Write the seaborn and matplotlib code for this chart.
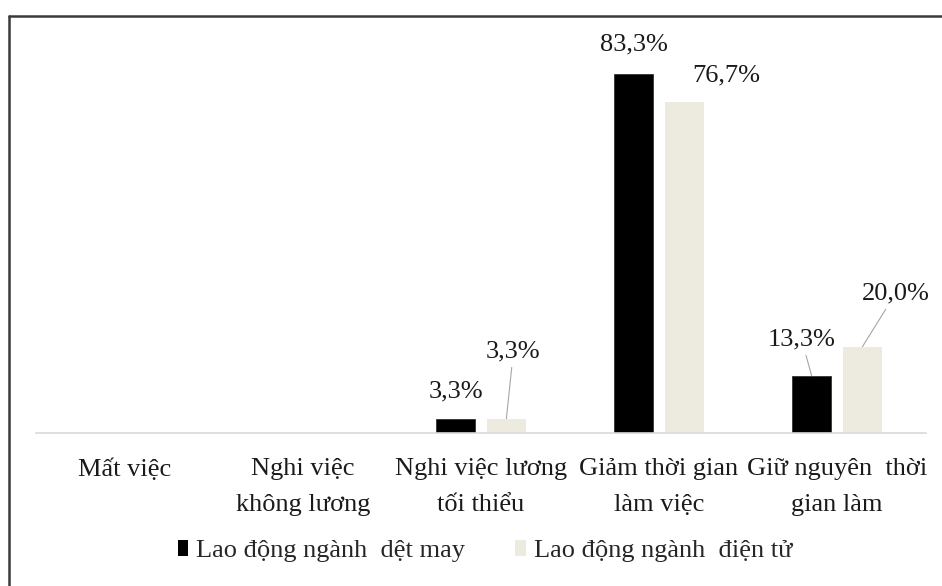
import matplotlib
matplotlib.use("Agg")
import matplotlib.pyplot as plt
from matplotlib.lines import Line2D
from matplotlib.patches import Patch
import seaborn as sns
import pandas as pd

categories = ["Mất việc", "Nghi việc\nkhông lương", "Nghi việc lương\ntối thiểu",
              "Giảm thời gian\nlàm việc", "Giữ nguyên  thời\ngian làm"]
series = ["Lao động ngành  dệt may", "Lao động ngành  điện tử"]
det_may = [0, 0, 3.3, 83.3, 13.3]
dien_tu = [0, 0, 3.3, 76.7, 20.0]
labels_det_may = ["", "", "3,3%", "83,3%", "13,3%"]
labels_dien_tu = ["", "", "3,3%", "76,7%", "20,0%"]
colors = ["#000000", "#EDEBE0"]

df = pd.DataFrame({
    "cat": categories * 2,
    "val": det_may + dien_tu,
    "series": [series[0]] * len(categories) + [series[1]] * len(categories),
})

sns.set_style("white")
plt.rcParams["font.family"] = ["Liberation Serif", "DejaVu Serif"]
FS = 19

fig = plt.figure(figsize=(9.42, 5.86), dpi=100)
ax = fig.add_axes([36 / 942, (586 - 433) / 586, 890 / 942, (433 - 45) / 586])

sns.barplot(data=df, x="cat", y="val", hue="series", palette=colors,
            width=0.57, saturation=1, ax=ax, edgecolor="none")
ax.get_legend().remove()

# label offsets in pixels from the top centre of each bar: (dx, dy, leader line)
offsets = {
    (0, 2): (0, 27, False), (0, 3): (0, 29, False), (0, 4): (-10, 36, True),
    (1, 2): (7, 67, True), (1, 3): (42, 27, False), (1, 4): (33, 53, True),
}
all_labels = [labels_det_may, labels_dien_tu]
bar_w = 39 / 178
for si, cont in enumerate(ax.containers):
    for ci, bar in enumerate(cont):
        w = bar.get_width()
        bar.set_x(bar.get_x() + (w - bar_w) / 2)
        bar.set_width(bar_w)
        if si == 0:
            bar.set_edgecolor("#333333")
            bar.set_linewidth(0.6)
        txt = all_labels[si][ci]
        if not txt:
            continue
        dx, dy, leader = offsets.get((si, ci), (0, 27, False))
        cx = bar.get_x() + bar_w / 2
        props = None
        if leader:
            props = dict(arrowstyle="-", color="#A6A6A6", lw=0.8, shrinkA=1, shrinkB=0)
        ax.annotate(txt, xy=(cx, bar.get_height()), xytext=(dx, dy),
                    textcoords="offset pixels", ha="center", va="center",
                    fontsize=FS, color="#1a1a1a", arrowprops=props)

ax.set_xlim(-0.5, 4.5)
ax.set_ylim(0, 90)
ax.set_xlabel("")
ax.set_ylabel("")
ax.set_yticks([])
for s in ["top", "right", "left"]:
    ax.spines[s].set_visible(False)
ax.spines["bottom"].set_color("#D9D9D9")
ax.spines["bottom"].set_linewidth(1.2)
ax.tick_params(axis="x", length=0, pad=18, labelsize=FS, labelcolor="#1a1a1a")
for lab in ax.get_xticklabels():
    lab.set_linespacing(1.85)

handles = [Patch(facecolor=colors[0], edgecolor="none"),
           Patch(facecolor=colors[1], edgecolor="none")]
fig.legend(handles, series, loc="center", bbox_to_anchor=(0.515, 1 - 551 / 586),
           ncol=2, frameon=False, fontsize=FS, handlelength=0.4, handleheight=0.6,
           handletextpad=0.3, columnspacing=1.9)

fig.add_artist(Line2D([9 / 942, 9 / 942], [0, 1 - 16 / 586], color="#3a3a3a", lw=1.8))
fig.add_artist(Line2D([9 / 942, 1], [1 - 16 / 586, 1 - 16 / 586], color="#3a3a3a", lw=1.8))

fig.savefig("out.png", dpi=100)
